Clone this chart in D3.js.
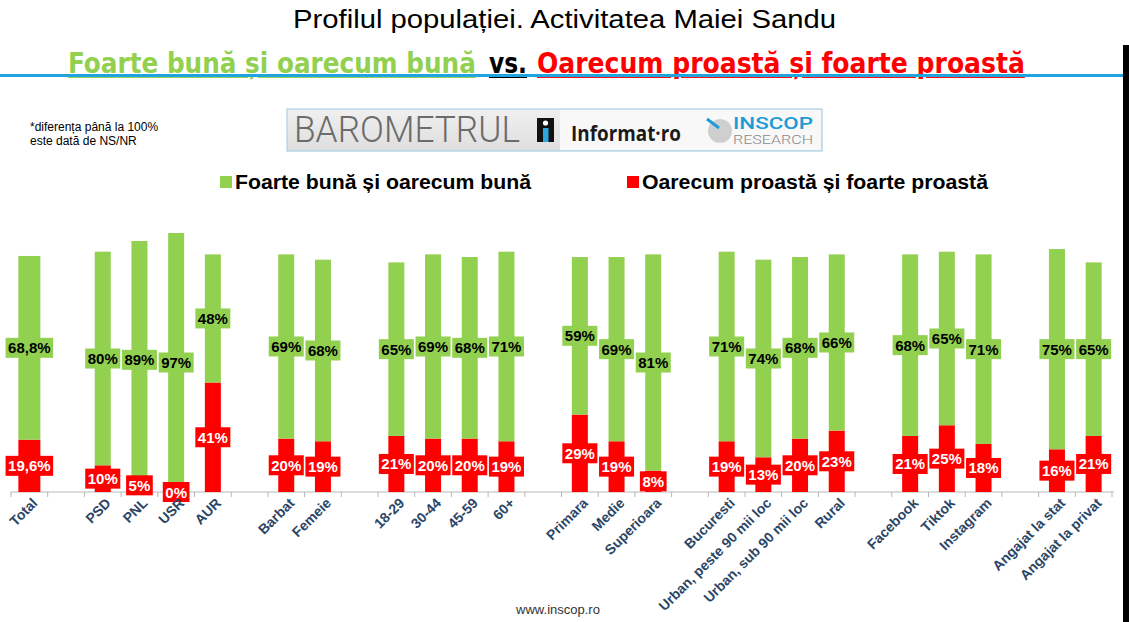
<!DOCTYPE html>
<html><head><meta charset="utf-8">
<script src="https://cdn.jsdelivr.net/npm/d3@7"></script>
<style>body{margin:0;background:#fff;}svg{display:block;}</style>
</head><body>
<script>
// ---- data ----
const categories = ["Total","_g1","PSD","PNL","USR","AUR","_g2","Barbat","Femeie","_g3","18-29","30-44","45-59","60+","_g4","Primara","Medie","Superioara","_g5","Bucuresti","Urban, peste 90 mii loc","Urban, sub 90 mii loc","Rural","_g6","Facebook","Tiktok","Instagram","_g7","Angajat la stat","Angajat la privat"];
const goodValues = [68.8,null,80,89,97,48,null,69,68,null,65,69,68,71,null,59,69,81,null,71,74,68,66,null,68,65,71,null,75,65];
const badValues  = [19.6,null,10,5,0,41,null,20,19,null,21,20,20,19,null,29,19,8,null,19,13,20,23,null,21,25,18,null,16,21];
const goodLabels = ["68,8%",null,"80%","89%","97%","48%",null,"69%","68%",null,"65%","69%","68%","71%",null,"59%","69%","81%",null,"71%","74%","68%","66%",null,"68%","65%","71%",null,"75%","65%"];
const badLabels  = ["19,6%",null,"10%","5%","0%","41%",null,"20%","19%",null,"21%","20%","20%","19%",null,"29%","19%","8%",null,"19%","13%","20%","23%",null,"21%","25%","18%",null,"16%","21%"];
const seriesNames = ["Foarte bună și oarecum bună","Oarecum proastă și foarte proastă"];

const W = 1129, H = 622;
const GREEN = "#92D050", RED = "#FF0000";
const svg = d3.select("body").append("svg").attr("width", W).attr("height", H);

// Titles
svg.append("text").attr("x", 293).attr("y", 28)
  .attr("font-family","Liberation Sans, Arial").attr("font-size",26).attr("fill","#000")
  .attr("textLength",543).attr("lengthAdjust","spacingAndGlyphs")
  .text("Profilul populației. Activitatea Maiei Sandu");

// subtitle: three parts, horizontally scaled to the widths in the reference
const subParts = [
  {t:seriesNames[0], c:GREEN, x:68, w:408},
  {t:"vs.", c:"#000", x:489, w:38},
  {t:seriesNames[1], c:RED, x:537, w:488}
];
subParts.forEach(d=>{
  const g = svg.append("g");
  const t = g.append("text").attr("x",0).attr("y",0)
    .attr("font-family","DejaVu Sans Condensed, Liberation Sans, sans-serif")
    .attr("font-weight","bold").attr("font-size",29).attr("text-decoration","underline")
    .attr("fill",d.c).text(d.t);
  const nat = t.node().getComputedTextLength();
  g.attr("transform",`translate(${d.x},73) scale(${d.w/nat},1)`);
});

svg.append("rect").attr("x",0).attr("y",74).attr("width",1123).attr("height",3).attr("fill","#1FA4E0");
svg.append("rect").attr("x",1123).attr("y",45).attr("width",6).attr("height",H-45).attr("fill","#000");

// note
const note = svg.append("text").attr("font-family","Liberation Sans, Arial").attr("font-size",12).attr("fill","#000");
note.append("tspan").attr("x",30).attr("y",131).text("*diferența până la 100%");
note.append("tspan").attr("x",30).attr("y",145).text("este dată de NS/NR");

// logo box
const defs = svg.append("defs");
const lg = defs.append("linearGradient").attr("id","lg").attr("x1",0).attr("x2",0).attr("y1",0).attr("y2",1);
lg.append("stop").attr("offset","0").attr("stop-color","#f0f0f0");
lg.append("stop").attr("offset","1").attr("stop-color","#dedede");
svg.append("rect").attr("x",287).attr("y",109).attr("width",535).attr("height",42)
  .attr("fill","url(#lg)").attr("stroke","#a9d3e6").attr("stroke-width",1.2);
svg.append("rect").attr("x",560).attr("y",110).attr("width",261).attr("height",40).attr("fill","#f8f8f8");
svg.append("text").attr("x",294).attr("y",142).attr("font-family","Roboto, sans-serif").attr("font-weight",300)
  .attr("font-size",37).attr("fill","#6b6b6b").attr("textLength",226).attr("lengthAdjust","spacingAndGlyphs").text("BAROMETRUL");
svg.append("rect").attr("x",537).attr("y",118).attr("width",17).attr("height",24).attr("fill","#111");
svg.append("circle").attr("cx",545.5).attr("cy",123).attr("r",2.6).attr("fill","#fff");
svg.append("rect").attr("x",543).attr("y",128).attr("width",5.5).attr("height",14).attr("fill","#2aa7df");
svg.append("text").attr("x",571).attr("y",141).attr("font-family","Open Sans, sans-serif").attr("font-weight","bold")
  .attr("font-size",21).attr("fill","#1a1a1a").attr("textLength",110).attr("lengthAdjust","spacingAndGlyphs").text("Informat·ro");
svg.append("circle").attr("cx",720).attr("cy",131).attr("r",12).attr("fill","#cfcfcf");
svg.append("line").attr("x1",707).attr("y1",119).attr("x2",719).attr("y2",128).attr("stroke","#1E9BD7").attr("stroke-width",3);
svg.append("text").attr("x",733).attr("y",129).attr("font-family","Roboto, sans-serif").attr("font-weight",500)
  .attr("font-size",16).attr("fill","#1E9BD7").attr("textLength",80).attr("lengthAdjust","spacingAndGlyphs").text("INSCOP");
svg.append("text").attr("x",733).attr("y",144).attr("font-family","Roboto, sans-serif").attr("font-weight",300)
  .attr("font-size",12.5).attr("fill","#8a8a8a").attr("textLength",80).attr("lengthAdjust","spacingAndGlyphs").text("RESEARCH");

// legend
const legend = [{name:seriesNames[0], color:GREEN, x:220, w:296},{name:seriesNames[1], color:RED, x:627, w:346}];
const lgG = svg.selectAll(".lgd").data(legend).enter().append("g");
lgG.append("rect").attr("x",d=>d.x).attr("y",176).attr("width",12).attr("height",12).attr("fill",d=>d.color);
lgG.append("text").attr("x",d=>d.x+15).attr("y",189).attr("font-family","Liberation Sans, Arial")
  .attr("font-weight","bold").attr("font-size",20).attr("fill","#000")
  .attr("textLength",d=>d.w).attr("lengthAdjust","spacingAndGlyphs").text(d=>d.name);

// scales
const x = d3.scaleBand().domain(categories).range([11, 1112]).padding(0);
const y = d3.scaleLinear().domain([0,100]).range([492, 225]);

const rows = categories.map((c,i)=>({c, good:goodValues[i], bad:badValues[i], gl:goodLabels[i], bl:badLabels[i]})).filter(d=>d.good!==null);
const bw = d => d.c === "Total" ? 22 : 16;

// axis
const axisG = svg.append("g").attr("transform","translate(0,492)");
axisG.append("line").attr("x1",11).attr("x2",1114).attr("y1",0).attr("y2",0).attr("stroke","#b7b7b7").attr("stroke-width",1);
const ticks = d3.range(categories.length+1).map(i => 11 + i*x.bandwidth());
axisG.selectAll(".tk").data(ticks).enter().append("line")
  .attr("x1",d=>d).attr("x2",d=>d).attr("y1",0).attr("y2",5).attr("stroke","#b7b7b7");

// bars
const bars = svg.append("g");
bars.selectAll(".bad").data(rows).enter().append("rect")
  .attr("x",d=>x(d.c)+x.bandwidth()/2-bw(d)/2).attr("width",bw)
  .attr("y",d=>y(d.bad)).attr("height",d=>y(0)-y(d.bad)).attr("fill",RED);
bars.selectAll(".good").data(rows).enter().append("rect")
  .attr("x",d=>x(d.c)+x.bandwidth()/2-bw(d)/2).attr("width",bw)
  .attr("y",d=>y(d.bad+d.good)).attr("height",d=>y(d.bad)-y(d.bad+d.good)).attr("fill",GREEN);

// labels
function addLabel(g, cx, cy, txt, bg, fg){
  const t = g.append("text").attr("x",cx).attr("y",cy+5.5).attr("text-anchor","middle")
    .attr("font-family","Liberation Sans, Arial").attr("font-weight","bold").attr("font-size",15).attr("fill",fg).text(txt);
  const bb = t.node().getBBox();
  g.insert("rect","text").attr("x",bb.x-2.5).attr("y",cy-10).attr("width",bb.width+5).attr("height",20).attr("fill",bg);
}
rows.forEach(d=>{
  const cx = x(d.c)+x.bandwidth()/2;
  addLabel(svg.append("g"), cx, (y(d.bad)+y(d.bad+d.good))/2, d.gl, GREEN, "#000");
  addLabel(svg.append("g"), cx, (y(0)+y(d.bad))/2, d.bl, RED, "#fff");
});

// x labels
svg.append("g").selectAll("text").data(rows).enter().append("text")
  .attr("transform",d=>`translate(${x(d.c)+x.bandwidth()/2+9},${504}) rotate(-45)`)
  .attr("text-anchor","end").attr("font-family","Liberation Sans, Arial").attr("font-weight","bold")
  .attr("font-size",14).attr("fill","#2B4566").text(d=>d.c);

// footer
svg.append("text").attr("x",558).attr("y",614).attr("text-anchor","middle").attr("font-family","Liberation Sans, Arial")
  .attr("font-size",13).attr("fill","#333").text("www.inscop.ro");
</script>
</body></html>
